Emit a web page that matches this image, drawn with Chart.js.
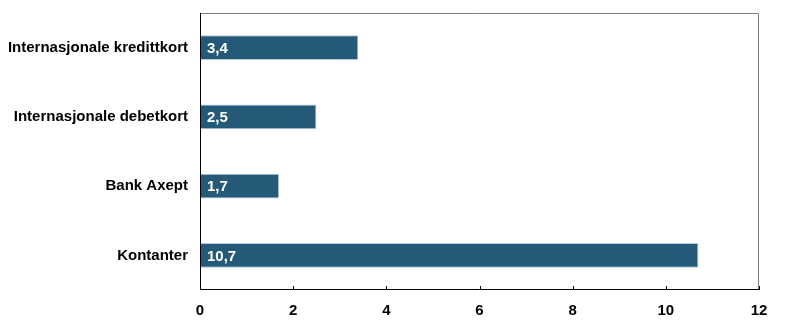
<!DOCTYPE html>
<html>
<head>
<meta charset="utf-8">
<script src="https://cdn.jsdelivr.net/npm/chart.js@4"></script>
<style>
  html, body { margin: 0; padding: 0; background: #fff; }
  #wrap { width: 797px; height: 329px; position: relative; }
</style>
</head>
<body>
<div id="wrap"><canvas id="betaling"></canvas></div>
<script>
// Data
const kategorier = ['Internasjonale kredittkort', 'Internasjonale debetkort', 'Bank Axept', 'Kontanter'];
const verdier = [3.4, 2.5, 1.7, 10.7];
const xTicks = [0, 2, 4, 6, 8, 10, 12];

const fontFamily = 'Arial, "Liberation Sans", sans-serif';

// Ramme og innvendige tick-streker
const rammePlugin = {
  id: 'ramme',
  afterDraw(chart) {
    const { ctx, chartArea: a, scales } = chart;
    ctx.save();
    ctx.lineWidth = 1;
    ctx.strokeStyle = '#808080';
    ctx.beginPath();
    ctx.moveTo(a.left, a.top + 0.5);
    ctx.lineTo(a.right - 0.5, a.top + 0.5);
    ctx.lineTo(a.right - 0.5, a.bottom);
    ctx.stroke();
    ctx.strokeStyle = '#000';
    ctx.beginPath();
    ctx.moveTo(a.left + 0.5, a.top);
    ctx.lineTo(a.left + 0.5, a.bottom - 0.5);
    ctx.lineTo(a.right, a.bottom - 0.5);
    ctx.stroke();
    ctx.beginPath();
    xTicks.forEach(v => {
      const x = Math.round(scales.x.getPixelForValue(v)) + 0.5;
      ctx.moveTo(x, a.bottom);
      ctx.lineTo(x, a.bottom - 4);
    });
    ctx.stroke();

    // Verdietiketter inne i stolpene
    const meta = chart.getDatasetMeta(0);
    ctx.fillStyle = '#fff';
    ctx.font = 'bold 15px ' + fontFamily;
    ctx.textAlign = 'left';
    ctx.textBaseline = 'middle';
    meta.data.forEach((bar, i) => {
      const tekst = verdier[i].toFixed(1).replace('.', ',');
      ctx.fillText(tekst, a.left + 7, bar.y + 1);
    });
    ctx.restore();
  }
};

new Chart(document.getElementById('betaling'), {
  type: 'bar',
  data: {
    labels: kategorier,
    datasets: [{
      data: verdier,
      backgroundColor: '#245a78',
      borderColor: '#b3cddb',
      borderWidth: 1,
      borderSkipped: 'left',
      categoryPercentage: 1,
      barPercentage: 0.36
    }]
  },
  options: {
    indexAxis: 'y',
    responsive: true,
    maintainAspectRatio: false,
    animation: false,
    layout: { padding: { top: 13, right: 38, left: 0, bottom: 0 } },
    plugins: {
      legend: { display: false },
      tooltip: { enabled: false }
    },
    scales: {
      x: {
        min: 0,
        max: 12,
        afterBuildTicks(scale) {
          scale.ticks = xTicks.map(v => ({ value: v }));
        },
        afterFit(scale) {
          scale.height = 39;
          scale.paddingLeft = 0;
          scale.paddingRight = 0;
        },
        grid: { display: false, drawTicks: false },
        border: { display: false },
        ticks: {
          padding: 12,
          color: '#000',
          font: { family: fontFamily, size: 15, weight: 'bold' }
        }
      },
      y: {
        afterFit(scale) {
          scale.width = 200;
          scale.paddingTop = 0;
          scale.paddingBottom = 0;
        },
        grid: { display: false, drawTicks: false },
        border: { display: false },
        ticks: {
          padding: 12,
          color: '#000',
          font: { family: fontFamily, size: 15, weight: 'bold' }
        }
      }
    }
  },
  plugins: [rammePlugin]
});
</script>
</body>
</html>
